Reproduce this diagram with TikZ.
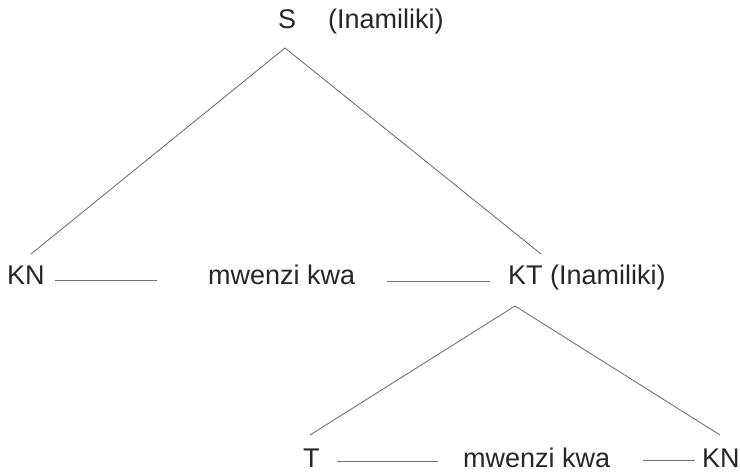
\documentclass[tikz,border=0pt]{standalone}
\usepackage{fontspec}
\setmainfont{Liberation Sans}
\usetikzlibrary{positioning}

\begin{document}
\begin{tikzpicture}[x=1pt,y=-1pt]
	\tikzstyle{Word} = [inner sep=0pt, anchor=base west, font=\fontsize{27}{32}\selectfont, text=black!85]
	\tikzstyle{Branch} = [draw=black!60, line width=0.8pt]
	\tikzstyle{Link} = [draw=black!55, line width=0.7pt]
	\useasboundingbox (0,0) rectangle (740,476);

	% words
	\node (S) [Word] at (278,29) {S};
	\node (Sname) [Word] at (328,29) {(Inamiliki)};
	\node (KN1) [Word] at (7,285) {KN};
	\node (MW1) [Word] at (208,285) {mwenzi kwa};
	\node (KT) [Word] at (508,285) {KT (Inamiliki)};
	\node (T) [Word] at (303,467) {T};
	\node (MW2) [Word] at (463,467) {mwenzi kwa};
	\node (KN2) [Word] at (702,467) {KN};

	% branch points
	\coordinate (Stop) at (285,48);
	\coordinate (KN1top) at (31,254);
	\coordinate (KTfoot) at (541,254);
	\coordinate (KTtop) at (515,306);
	\coordinate (Tfoot) at (310,435);
	\coordinate (KN2top) at (720,435);

	\draw[Branch] (KN1top) -- (Stop) -- (KTfoot);
	\draw[Branch] (Tfoot) -- (KTtop) -- (KN2top);

	% dashes between the words
	\draw[Link] ([xshift=10.5pt,yshift=5pt]KN1.base east) -- ([xshift=-51pt,yshift=5pt]MW1.base west);
	\draw[Link] ([xshift=32pt,yshift=4pt]MW1.base east) -- ([xshift=-18pt,yshift=4pt]KT.base west);
	\draw[Link] ([xshift=17.5pt,yshift=6pt]T.base east) -- ([xshift=-25pt,yshift=6pt]MW2.base west);
	\draw[Link] ([xshift=33pt,yshift=7pt]MW2.base east) -- ([xshift=-7pt,yshift=7pt]KN2.base west);
\end{tikzpicture}
\end{document}
